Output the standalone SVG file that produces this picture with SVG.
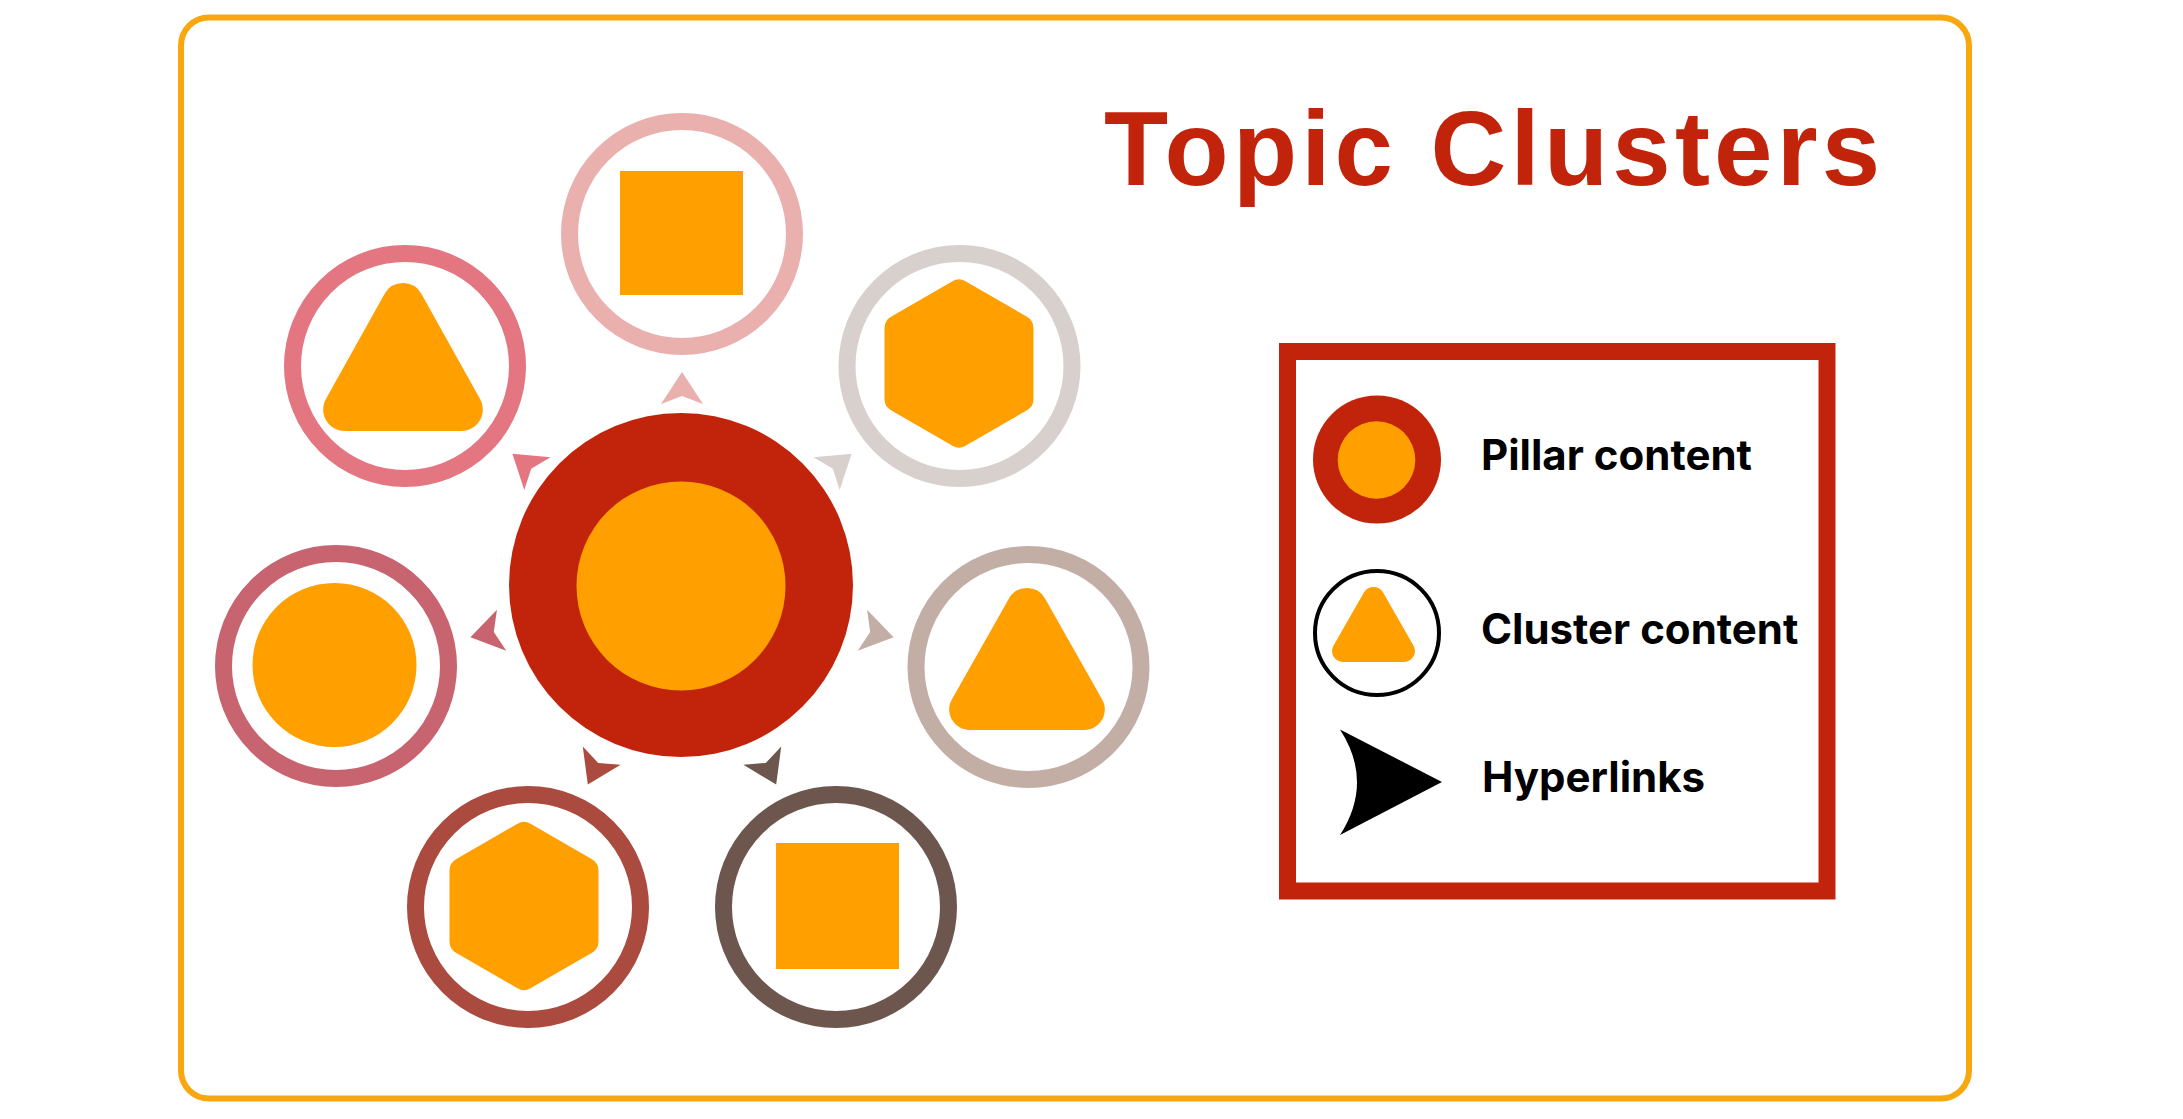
<svg xmlns="http://www.w3.org/2000/svg" xmlns:xlink="http://www.w3.org/1999/xlink" width="2183" height="1119" viewBox="0 0 2183 1119">
  <style>
    .ring { fill: #ffffff; stroke-width: 17; }
    .shape { fill: #FF9F00; }
    .title { font-family: "Liberation Sans", Arial, sans-serif; font-weight: 700; font-size: 105px; fill: #C1240B; letter-spacing: 4.2px; }
    .legtext { font-family: Inter, "Noto Sans", sans-serif; font-weight: 700; font-size: 42px; fill: #000000; }
  </style>
  <defs>
    <path id="arr" d="M 32 0 L 0 -21 L 8 0 L 0 21 Z"/>
    <path id="tri" d="M -18.30 -61.80 A 21 21 0 0 1 18.30 -61.80 L 76.30 41.20 A 21 21 0 0 1 58 72.5 L -58 72.5 A 21 21 0 0 1 -76.30 41.20 Z"/>
    <path id="hex" d="M -6.5 -82.26 A 13 13 0 0 1 6.5 -82.26 L 67.99 -46.76 A 13 13 0 0 1 74.49 -35.5 L 74.49 35.5 A 13 13 0 0 1 67.99 46.76 L 6.5 82.26 A 13 13 0 0 1 -6.5 82.26 L -67.99 46.76 A 13 13 0 0 1 -74.49 35.5 L -74.49 -35.5 A 13 13 0 0 1 -67.99 -46.76 Z"/>
  </defs>

  <rect x="0" y="0" width="2183" height="1119" fill="#ffffff"/>
  <rect id="frame" x="181" y="17.5" width="1788" height="1081" rx="28" ry="28" fill="none" stroke="#F8A80E" stroke-width="6"/>

  <text class="title" x="1104" y="185">Topic Clusters</text>

  <g id="pillar">
    <circle cx="681" cy="585" r="172" fill="#C1240B"/>
    <circle cx="681" cy="586" r="104.5" fill="#FF9F00"/>
  </g>

  <g id="cluster-top">
    <circle class="ring" cx="682" cy="234" r="112.5" stroke="#E9B0AE"/>
    <rect class="shape" x="620" y="171" width="123" height="124"/>
  </g>
  <g id="cluster-top-right">
    <circle class="ring" cx="959.5" cy="366" r="112.5" stroke="#D8D0CC"/>
    <use href="#hex" xlink:href="#hex" class="shape" transform="translate(959,363.5)"/>
  </g>
  <g id="cluster-right">
    <circle class="ring" cx="1028.5" cy="667" r="112.5" stroke="#C3AEA6"/>
    <use href="#tri" xlink:href="#tri" class="shape" transform="translate(1027,659) scale(0.985,0.98)"/>
  </g>
  <g id="cluster-bottom-right">
    <circle class="ring" cx="836" cy="907" r="112.5" stroke="#6C564E"/>
    <rect class="shape" x="776" y="843" width="123" height="126"/>
  </g>
  <g id="cluster-bottom-left">
    <circle class="ring" cx="528" cy="907" r="112.5" stroke="#AB4A3F"/>
    <use href="#hex" xlink:href="#hex" class="shape" transform="translate(524,906)"/>
  </g>
  <g id="cluster-left">
    <circle class="ring" cx="336" cy="666" r="112.5" stroke="#C7646F"/>
    <circle class="shape" cx="334.5" cy="665" r="82"/>
  </g>
  <g id="cluster-top-left">
    <circle class="ring" cx="405" cy="366" r="112.5" stroke="#E37681"/>
    <use href="#tri" xlink:href="#tri" class="shape" transform="translate(403,357) scale(1.01,1.02)"/>
  </g>

  <g id="connectors">
    <use href="#arr" xlink:href="#arr" fill="#E9B0AE" transform="translate(682,404) rotate(-90)"/>
    <use href="#arr" xlink:href="#arr" fill="#D8D0CC" transform="translate(826.6,473.7) rotate(-38.57)"/>
    <use href="#arr" xlink:href="#arr" fill="#C3AEA6" transform="translate(862.4,630.2) rotate(12.86)"/>
    <use href="#arr" xlink:href="#arr" fill="#6C564E" transform="translate(762.3,755.7) rotate(64.29)"/>
    <use href="#arr" xlink:href="#arr" fill="#AB4A3F" transform="translate(601.7,755.7) rotate(115.71)"/>
    <use href="#arr" xlink:href="#arr" fill="#C7646F" transform="translate(501.6,630.2) rotate(167.14)"/>
    <use href="#arr" xlink:href="#arr" fill="#E37681" transform="translate(537.4,473.7) rotate(218.57)"/>
  </g>

  <g id="legend">
    <rect x="1287.5" y="351.5" width="539.5" height="539.5" fill="#ffffff" stroke="#C1240B" stroke-width="17"/>
    <g id="legend-pillar">
      <circle cx="1377" cy="459.5" r="64" fill="#C1240B"/>
      <circle cx="1376.5" cy="460" r="38.8" fill="#FF9F00"/>
      <text class="legtext" x="1481" y="470">Pillar content</text>
    </g>
    <g id="legend-cluster">
      <circle cx="1377" cy="633" r="62" fill="#ffffff" stroke="#000000" stroke-width="4"/>
      <use href="#tri" xlink:href="#tri" class="shape" transform="translate(1373.5,624.5) scale(0.525,0.517)"/>
      <text class="legtext" x="1481" y="644">Cluster content</text>
    </g>
    <g id="legend-link">
      <path d="M 1442 782 L 1340 729.5 Q 1374 782 1340 835 Z" fill="#000000"/>
      <text class="legtext" x="1482" y="792">Hyperlinks</text>
    </g>
  </g>
</svg>
